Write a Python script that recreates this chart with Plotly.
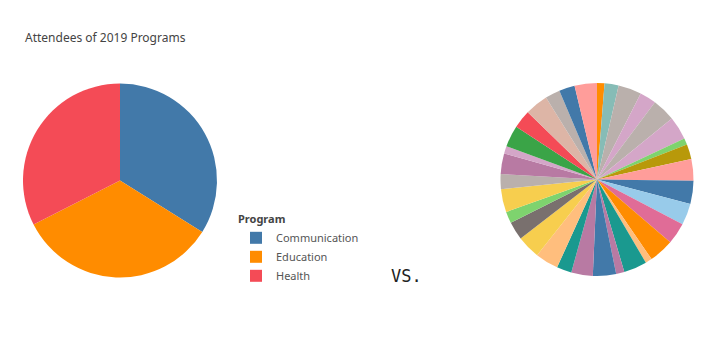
import plotly.graph_objects as go

# Left pie data
programs = ["Communication", "Education", "Health"]
attendees = [122, 121, 117]
program_colors = ["#4279A9", "#FF8C00", "#F44B56"]

# Right pie data (many slices, clockwise from 12 o'clock)
slice_labels = [f"S{i+1}" for i in range(33)]
slice_values = [4.5, 8.5, 14, 10, 14, 14, 4, 9, 13, 14, 13, 13, 15, 4, 14, 5,
                14, 13, 9, 14, 14, 11, 7, 14, 9, 12.5, 4.5, 13, 11, 14, 9, 9.5, 13.5]
slice_colors = ["#FF8C00", "#86BCB6", "#BAB0AC", "#D4A6C8", "#BAB0AC", "#D4A6C8",
                "#7ED36E", "#B8990A", "#FF9D9A", "#4279A9", "#98CBEA", "#E06C97",
                "#FF8C00", "#FFBE7D", "#1A998F", "#B87AA3", "#4279A9", "#B87AA3",
                "#1A998F", "#FFBE7D", "#F7CE4E", "#79706E", "#7ED36E", "#F7CE4E",
                "#BAB0AC", "#B87AA3", "#D4A6C8", "#3AA447", "#F44B56", "#DDB5A6",
                "#BAB0AC", "#4279A9", "#FF9D9A"]

# page body has an 8px default margin; work in window coordinates minus 8
OFF = 8
W, H = 720 - OFF, 360 - OFF

def px(x):
    return (x - OFF) / W

def py(y):
    return 1 - (y - OFF) / H

def dom(cx, cy, r):
    return dict(x=[px(cx - r), px(cx + r)], y=[py(cy + r), py(cy - r)])

fig = go.Figure()
fig.add_trace(go.Pie(
    labels=programs, values=attendees, sort=False, direction="clockwise",
    rotation=0, marker=dict(colors=program_colors, line=dict(width=0)),
    textinfo="none", hoverinfo="label+value", domain=dom(120, 180.5, 97),
    showlegend=True,
))
fig.add_trace(go.Pie(
    labels=slice_labels, values=slice_values, sort=False, direction="clockwise",
    rotation=0, marker=dict(colors=slice_colors, line=dict(width=0)),
    textinfo="none", hoverinfo="label+value", domain=dom(597, 179.5, 96.5),
    showlegend=False,
))

fig.update_layout(
    width=W, height=H,
    margin=dict(l=0, r=0, t=0, b=0),
    paper_bgcolor="white", plot_bgcolor="white",
    font=dict(family="Noto Sans, sans-serif", color="#555555", size=11),
    legend=dict(
        x=px(236), y=py(209), xanchor="left", yanchor="top",
        title=dict(text="<b>Program</b>", font=dict(size=11, color="#444444")),
        font=dict(size=11, color="#555555"),
        bgcolor="rgba(0,0,0,0)", itemclick=False,
    ),
    annotations=[
        dict(text="Attendees of 2019 Programs", x=px(23), y=py(38),
             xref="paper", yref="paper", xanchor="left", yanchor="middle",
             showarrow=False, font=dict(size=12, color="#444444", family="Noto Sans, sans-serif")),
        dict(text="VS.", x=px(406), y=py(276), xref="paper", yref="paper",
             xanchor="center", yanchor="middle", showarrow=False,
             font=dict(size=17, color="#222222", family="DejaVu Sans Mono, monospace")),
    ],
)

fig.write_html("out.html")
